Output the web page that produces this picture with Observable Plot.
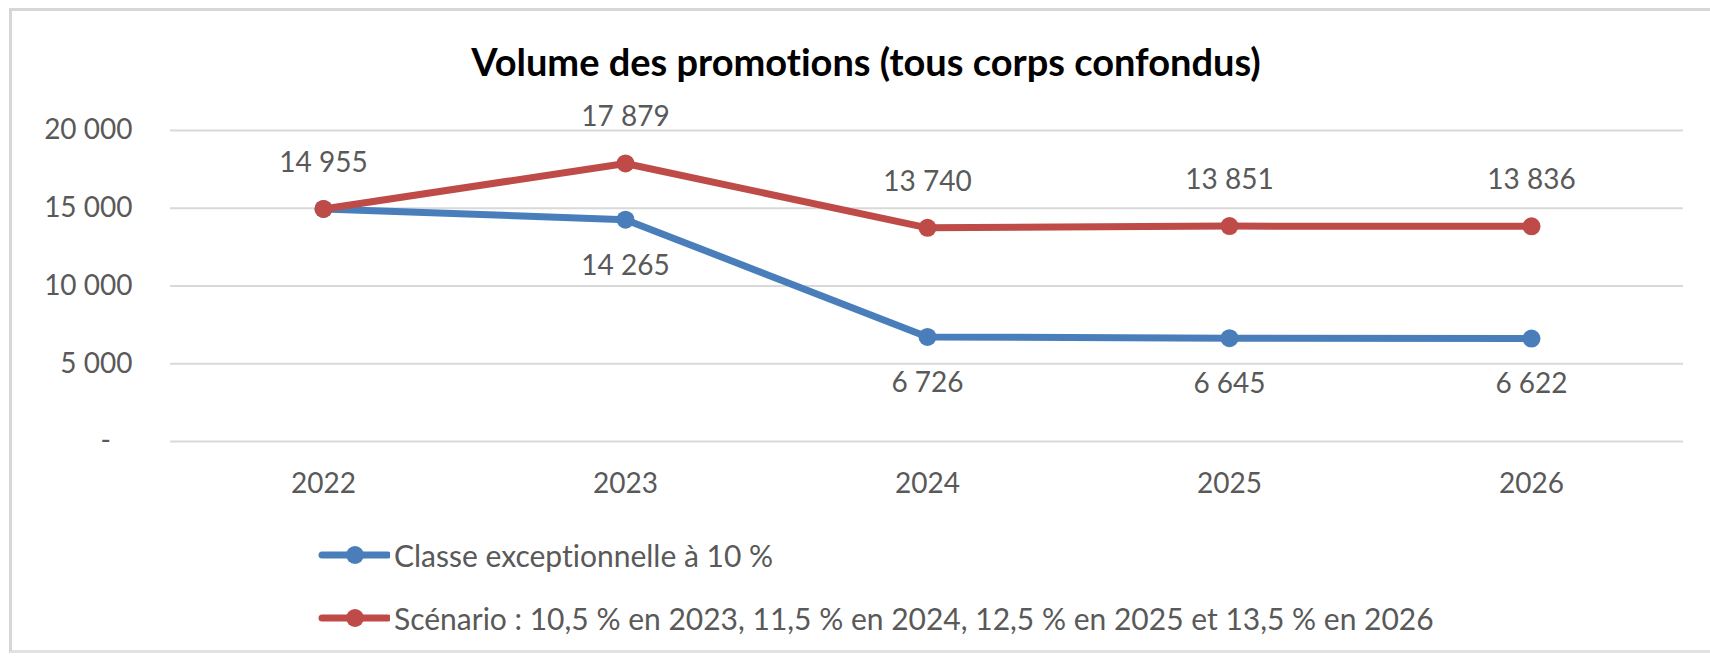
<!DOCTYPE html>
<html>
<head>
<meta charset="utf-8">
<script src="https://cdn.jsdelivr.net/npm/d3@7"></script>
<script src="https://cdn.jsdelivr.net/npm/@observablehq/plot@0.6"></script>
<style>
  html, body { margin: 0; padding: 0; background: #ffffff; }
  #wrap { position: relative; width: 1710px; height: 661px; overflow: hidden; background: #ffffff; font-family: Lato, "Open Sans", sans-serif; font-variant-ligatures: none; font-feature-settings: "liga" 0, "clig" 0; }
  #wrap svg text { font-variant-ligatures: none; font-feature-settings: "liga" 0, "clig" 0; }
  #frame { position: absolute; left: 9px; top: 8px; width: 1720px; height: 645px; border-left: 3px solid #d6d6d6; border-top: 3px solid #d6d6d6; border-bottom: 3px solid #e2e2e2; box-sizing: border-box; }
  #title { position: absolute; left: 0; width: 1732px; top: 42px; text-align: center; font-weight: 700; font-size: 38px; line-height: 38px; color: #000000; white-space: nowrap; }
  #chart { position: absolute; left: 0; top: 95px; }
  .leg { position: absolute; left: 318px; display: flex; align-items: center; font-size: 30px; color: #595959; white-space: nowrap; }
  .leg svg { margin-right: 4px; }
</style>
</head>
<body>
<div id="wrap">
  <div id="frame"></div>
  <div id="title"></div>
  <div id="chart"></div>
  <div id="leg0" class="leg" style="top:537px"></div>
  <div id="leg1" class="leg" style="top:600px"></div>
</div>
<script>
// ---- data ----
const years = ["2022", "2023", "2024", "2025", "2026"];
const classeExceptionnelle = [14955, 14265, 6726, 6645, 6622];
const scenario = [14955, 17879, 13740, 13851, 13836];
const yTicks = [0, 5000, 10000, 15000, 20000];
const seriesNames = [
  "Classe exceptionnelle à 10\u00a0%",
  "Scénario : 10,5\u00a0% en 2023, 11,5\u00a0% en 2024, 12,5\u00a0% en 2025 et 13,5\u00a0% en 2026"
];
const seriesColors = ["#4a7ebb", "#be4b48"];
const titleText = "Volume des promotions (tous corps confondus)";

// ---- build tables ----
const blueRows = years.map((y, i) => ({year: y, value: classeExceptionnelle[i]}));
const redRows = years.map((y, i) => ({year: y, value: scenario[i]}));

const fmt = d => d3.format(",")(d).replace(/,/g, "\u00a0");
const tickFmt = d => d === 0 ? "-\u00a0\u00a0\u00a0" : fmt(d);

document.getElementById("title").textContent = titleText;

const chart = Plot.plot({
  width: 1710,
  height: 410,
  marginLeft: 170,
  marginRight: 27,
  marginTop: 35,
  marginBottom: 64,
  style: {fontFamily: "Lato, 'Open Sans', sans-serif", fontSize: "28px", color: "#595959", background: "transparent", overflow: "visible"},
  x: {type: "point", domain: years, padding: 0.5},
  y: {domain: [0, 20000]},
  marks: [
    Plot.ruleY(yTicks, {stroke: "#d9d9d9", strokeWidth: 2}),
    Plot.axisY({ticks: yTicks, tickSize: 0, tickPadding: 38, tickFormat: tickFmt, label: null, fontSize: 28, fill: "#595959"}),
    Plot.axisX({tickSize: 0, tickPadding: 32, label: null, fontSize: 28, fill: "#595959"}),
    Plot.line(blueRows, {x: "year", y: "value", stroke: seriesColors[0], strokeWidth: 7, strokeLinejoin: "round", strokeLinecap: "round"}),
    Plot.dot(blueRows, {x: "year", y: "value", r: 9, fill: seriesColors[0]}),
    Plot.line(redRows, {x: "year", y: "value", stroke: seriesColors[1], strokeWidth: 7, strokeLinejoin: "round", strokeLinecap: "round"}),
    Plot.dot(redRows, {x: "year", y: "value", r: 9, fill: seriesColors[1]}),
    Plot.text(blueRows.filter(d => d.year !== "2022"), {x: "year", y: "value", text: d => fmt(d.value), dy: 46, fontSize: 28, fill: "#595959"}),
    Plot.text(redRows, {x: "year", y: "value", text: d => fmt(d.value), dy: -46, fontSize: 28, fill: "#595959"})
  ]
});
document.getElementById("chart").appendChild(chart);

// ---- legend ----
seriesNames.forEach((name, i) => {
  const el = document.getElementById("leg" + i);
  const ns = "http://www.w3.org/2000/svg";
  const sw = document.createElementNS(ns, "svg");
  sw.setAttribute("width", 72);
  sw.setAttribute("height", 24);
  const ln = document.createElementNS(ns, "line");
  ln.setAttribute("x1", 4); ln.setAttribute("x2", 70); ln.setAttribute("y1", 12); ln.setAttribute("y2", 12);
  ln.setAttribute("stroke", seriesColors[i]); ln.setAttribute("stroke-width", 7); ln.setAttribute("stroke-linecap", "round");
  const c = document.createElementNS(ns, "circle");
  c.setAttribute("cx", 37); c.setAttribute("cy", 12); c.setAttribute("r", 9); c.setAttribute("fill", seriesColors[i]);
  sw.appendChild(ln); sw.appendChild(c);
  el.appendChild(sw);
  const sp = document.createElement("span");
  sp.textContent = name;
  el.appendChild(sp);
});
</script>
</body>
</html>
